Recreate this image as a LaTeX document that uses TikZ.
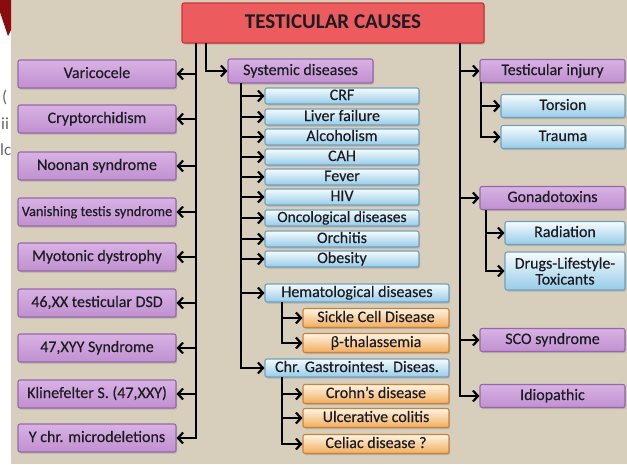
\documentclass[tikz,border=0pt]{standalone}
\usepackage{fontspec}
\setmainfont{Carlito}
\newfontfamily\heavy{Carlito}[FakeBold=0.35]
\usetikzlibrary{arrows.meta,shadows}
\definecolor{bg}{RGB}{216,206,188}
\definecolor{darkred}{RGB}{140,12,14}
\definecolor{titlefill}{RGB}{236,92,94}
\definecolor{titleedge}{RGB}{196,52,56}
\definecolor{purpA}{RGB}{216,178,228}
\definecolor{purpB}{RGB}{192,144,208}
\definecolor{purpedge}{RGB}{150,104,170}
\definecolor{blueA}{RGB}{246,251,253}
\definecolor{blueB}{RGB}{150,204,232}
\definecolor{blueedge}{RGB}{110,160,195}
\definecolor{orA}{RGB}{255,244,228}
\definecolor{orB}{RGB}{242,172,90}
\definecolor{oredge}{RGB}{200,130,60}
\definecolor{txt}{RGB}{28,28,34}
\begin{document}
\begin{tikzpicture}[x=1pt,y=-1pt,
  box/.style={rounded corners=2pt, line width=1.1pt, inner sep=0pt, align=center,
    text=txt, font=\heavy\fontsize{16}{16}\selectfont, text height=11pt, text depth=3pt,
    drop shadow={opacity=0.35, shadow xshift=1.2pt, shadow yshift=-1.5pt}},
  purp/.style={box, draw=purpedge, top color=purpA, bottom color=purpB},
  bluebox/.style={box, draw=blueedge, top color=blueA, bottom color=blueB},
  orbox/.style={box, draw=oredge, top color=orA, bottom color=orB},
  leftbox/.style={purp, minimum width=158pt, minimum height=28pt},
  rightbox/.style={purp, minimum width=145pt, minimum height=23pt},
  sysbox/.style={bluebox, minimum width=154pt, minimum height=16pt},
  subbox/.style={bluebox, minimum width=184pt, minimum height=18pt},
  obox/.style={orbox, minimum width=146pt, minimum height=19pt},
  rbox/.style={bluebox, minimum width=122pt, minimum height=23pt},
  ln/.style={line width=2.4pt, black},
  arr/.style={ln, -{Straight Barb[length=5pt,width=11pt,line width=2.2pt]}},
  frag/.style={text=black!60, font=\fontsize{17}{17}\selectfont, anchor=west, inner sep=0pt}
]
\useasboundingbox (0,0) rectangle (627,464);
% page edge artifacts
\fill[white] (0,0) rectangle (627,464);
\node[frag] (f1) at (2,97) {(};
\node[frag] (f2) at (1,124) {ii};
\node[frag] (f3) at (0,150) {lc};
\fill[bg] (11,0) rectangle (627,464);
\fill[darkred] (0,0) -- (11,0) -- (11,30) -- (8,36) -- (0,12) -- cycle;

% title
\node[box, draw=titleedge, fill=titlefill, minimum width=302pt, minimum height=40pt,
  font=\bfseries\fontsize{21}{22}\selectfont, text height=15pt, text depth=4pt] (title) at (333,23) {TESTICULAR CAUSES};

% left column
\node[leftbox] (l1) at (97,74) {Varicocele};
\node[leftbox] (l2) at (97,119) {Cryptorchidism};
\node[leftbox] (l3) at (97,166) {Noonan syndrome};
\node[leftbox, font=\heavy\fontsize{14.3}{15}\selectfont] (l4) at (97,212) {Vanishing testis syndrome};
\node[leftbox] (l5) at (97,257) {Myotonic dystrophy};
\node[leftbox] (l6) at (97,303) {46,XX testicular DSD};
\node[leftbox] (l7) at (97,348) {47,XYY Syndrome};
\node[leftbox] (l8) at (97,394) {Klinefelter S. (47,XXY)};
\node[leftbox] (l9) at (97,438) {Y chr. microdeletions};

% systemic
\node[purp, minimum width=145pt, minimum height=24pt] (sys) at (300.5,71) {Systemic diseases};
\node[sysbox] (s1) at (342,96) {CRF};
\node[sysbox] (s2) at (342,117) {Liver failure};
\node[sysbox] (s3) at (342,137) {Alcoholism};
\node[sysbox] (s4) at (342,157) {CAH};
\node[sysbox] (s5) at (342,177) {Fever};
\node[sysbox] (s6) at (342,197) {HIV};
\node[sysbox, font=\heavy\fontsize{15.5}{16}\selectfont] (s7) at (342,218) {Oncological diseases};
\node[sysbox] (s8) at (342,239) {Orchitis};
\node[sysbox] (s9) at (342,259) {Obesity};
\node[subbox] (hem) at (357,293) {Hematological diseases};
\node[obox] (h1) at (376,318) {Sickle Cell Disease};
\node[obox] (h2) at (376,343) {β-thalassemia};
\node[subbox] (chr) at (357,368) {Chr. Gastrointest. Diseas.};
\node[obox] (c1) at (376,394) {Crohn’s disease};
\node[obox] (c2) at (376,418) {Ulcerative colitis};
\node[obox] (c3) at (376,444) {Celiac disease ?};

% right column
\node[rightbox] (r1) at (552.5,71) {Testicular injury};
\node[rbox, minimum width=124pt] (t1) at (563,106) {Torsion};
\node[rbox, minimum width=124pt] (t2) at (563,137) {Trauma};
\node[rightbox] (r2) at (552.5,198) {Gonadotoxins};
\node[rbox, minimum width=120pt] (g1) at (565,233) {Radiation};
\node[rbox, minimum width=120pt, minimum height=38pt, text height=, text depth=] (g2) at (565,271) {Drugs-Lifestyle-\\Toxicants};
\node[rightbox] (r3) at (552.5,340) {SCO syndrome};
\node[rightbox] (r4) at (552.5,396) {Idiopathic};

% connector anchors
\coordinate (lt) at (196,43);
\coordinate (st) at (206,43);
\coordinate (rt) at (460,43);
\coordinate (sv) at (241,83);
\coordinate (hv) at (282,302);
\coordinate (cv) at (282,377);
\coordinate (tv) at (481,82);
\coordinate (gv) at (486,210);

\draw[arr] (lt) |- (l9.east);
\foreach \n in {l1,l2,l3,l4,l5,l6,l7,l8}
  \draw[arr] (lt |- \n.east) -- (\n.east);

\draw[arr] (st) |- (sys.west);
\draw[arr] (sv) |- (chr.west);
\foreach \n in {s1,s2,s3,s4,s5,s6,s7,s8,s9,hem}
  \draw[arr] (sv |- \n.west) -- (\n.west);
\draw[arr] (hv) |- (h2.west);
\draw[arr] (hv |- h1.west) -- (h1.west);
\draw[arr] (cv) |- (c3.west);
\foreach \n in {c1,c2}
  \draw[arr] (cv |- \n.west) -- (\n.west);

\draw[arr] (rt) |- (r4.west);
\foreach \n in {r1,r2,r3}
  \draw[arr] (rt |- \n.west) -- (\n.west);
\draw[arr] (tv) |- (t2.west);
\draw[arr] (tv |- t1.west) -- (t1.west);
\draw[arr] (gv) |- (g2.west);
\draw[arr] (gv |- g1.west) -- (g1.west);
\end{tikzpicture}
\end{document}
